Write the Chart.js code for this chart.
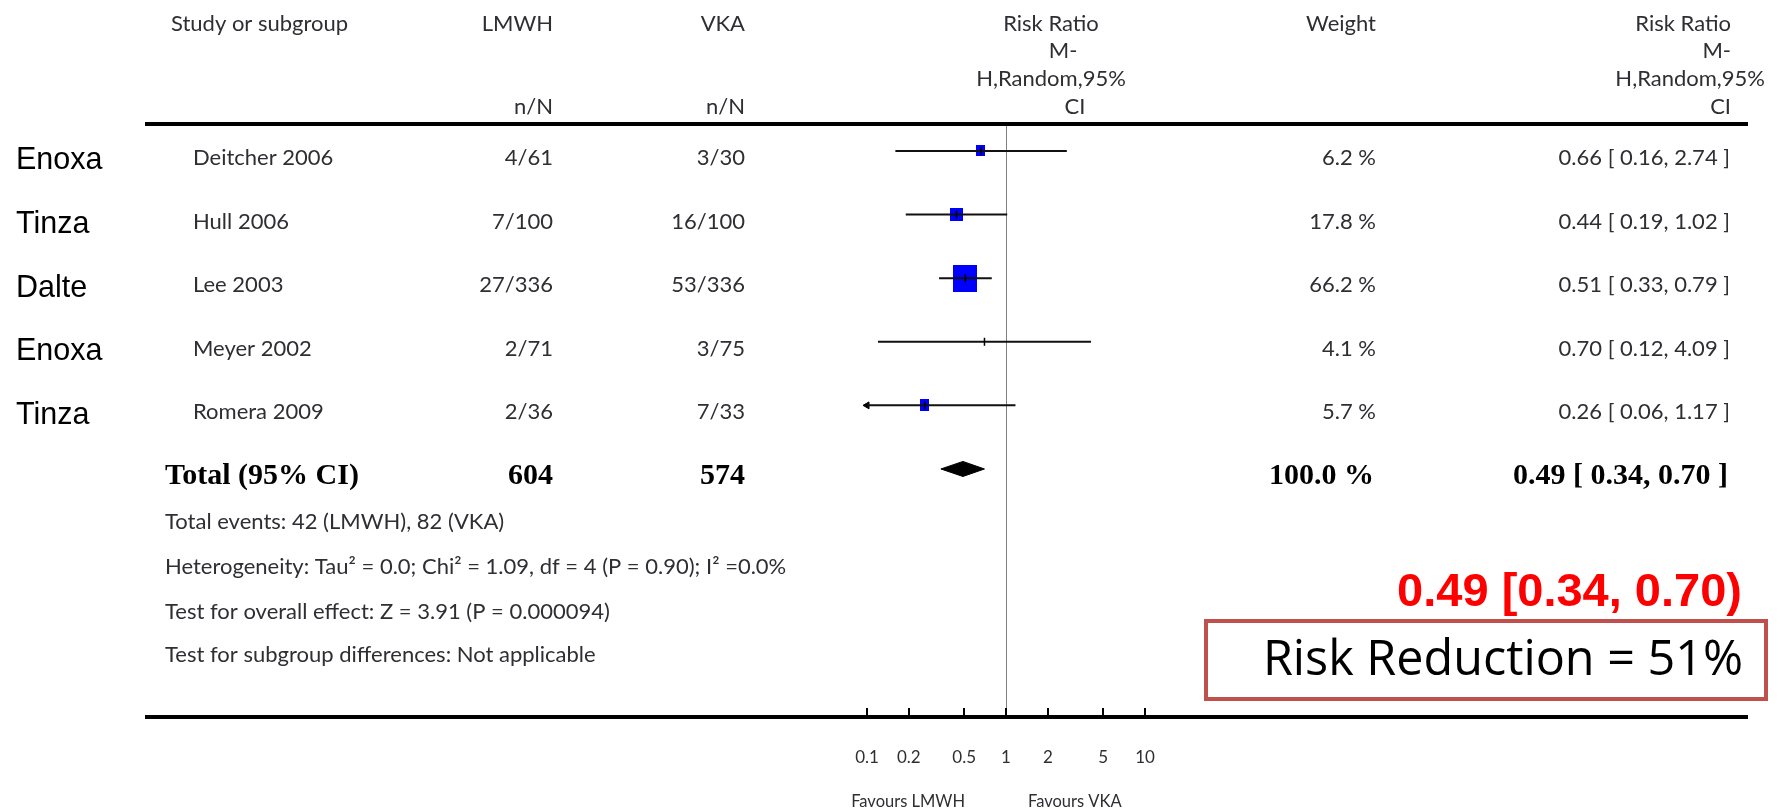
<!DOCTYPE html>
<html><head><meta charset="utf-8">
<script src="https://cdn.jsdelivr.net/npm/chart.js@4.4.1/dist/chart.umd.min.js"></script>
<style>html,body{margin:0;padding:0;background:#fff;overflow:hidden}canvas{display:block}</style>
</head><body>
<canvas id="c" width="1785" height="812"></canvas>
<script>
// ---------------- DATA ----------------
const drugs      = ['Enoxa', 'Tinza', 'Dalte', 'Enoxa', 'Tinza'];
const studies    = ['Deitcher 2006', 'Hull 2006', 'Lee 2003', 'Meyer 2002', 'Romera 2009'];
const lmwhEvents = ['4/61', '7/100', '27/336', '2/71', '2/36'];
const vkaEvents  = ['3/30', '16/100', '53/336', '3/75', '7/33'];
const weights    = [6.2, 17.8, 66.2, 4.1, 5.7];
const riskRatio  = [0.66, 0.44, 0.51, 0.70, 0.26];
const ciLow      = [0.16, 0.19, 0.33, 0.12, 0.06];
const ciHigh     = [2.74, 1.02, 0.79, 4.09, 1.17];
const totalLMWH = 604, totalVKA = 574, totalWeight = 100.0;
const totalRR = 0.49, totalLow = 0.34, totalHigh = 0.70;
const tickValues = [0.1, 0.2, 0.5, 1, 2, 5, 10];
const tickLabels = ['0.1', '0.2', '0.5', '1', '2', '5', '10'];
const footnotes = [
  'Total events: 42 (LMWH), 82 (VKA)',
  'Heterogeneity: Tau\u00B2 = 0.0; Chi\u00B2 = 1.09, df = 4 (P = 0.90); I\u00B2 =0.0%',
  'Test for overall effect: Z = 3.91 (P = 0.000094)',
  'Test for subgroup differences: Not applicable'
];
const highlightText = '0.49 [0.34, 0.70)';
const boxText = 'Risk Reduction = 51%';

// ---------------- STYLE ----------------
const X_MIN = 0.1, X_MAX = 10;
const boxPx = [[9, 11], [13, 13], [24, 27], [0, 0], [9, 12]];   // marker box w,h (px)
const DIAMOND_HALF = 0.118;
const FONT = 'Lato, "Open Sans", sans-serif';
const TXT = '#2e2e33';

const rows = studies.map((_, i) => i + 1);
const totalRow = studies.length + 1;

function boxCanvas(w, h) {
  const c = document.createElement('canvas');
  c.width = Math.max(w, 1); c.height = Math.max(h, 1);
  const g = c.getContext('2d');
  g.fillStyle = '#0000ff'; g.fillRect(0, 0, c.width, c.height);
  return c;
}
const boxImgs = boxPx.map(([w, h]) => boxCanvas(w, h));

const fmt2 = v => v.toFixed(2);

const textPlugin = {
  id: 'forestText',
  afterDraw(chart) {
    const ctx = chart.ctx;
    const ys = chart.scales.y, xs = chart.scales.x;
    const t = (s, x, y, align, font, color) => {
      ctx.font = font; ctx.fillStyle = color || TXT;
      ctx.textAlign = align; ctx.textBaseline = 'middle';
      ctx.fillText(s, x, y);
    };
    ctx.save();
    // rules
    ctx.fillStyle = '#000';
    ctx.fillRect(145, 122, 1603, 4);
    ctx.fillRect(145, 715, 1603, 4);
    // inward ticks on axis
    ctx.strokeStyle = '#000'; ctx.lineWidth = 2;
    xs.ticks.forEach(tk => {
      const px = Math.round(xs.getPixelForValue(tk.value));
      ctx.beginPath(); ctx.moveTo(px, 716); ctx.lineTo(px, 708); ctx.stroke();
    });

    const reg = '22px ' + FONT;
    // headers
    t('Study or subgroup', 171, 24, 'left', reg);
    t('LMWH', 553, 24, 'right', reg);
    t('VKA', 745, 24, 'right', reg);
    t('n/N', 553, 107, 'right', reg);
    t('n/N', 745, 107, 'right', reg);
    t('Risk Ratio', 1051, 24, 'center', reg);
    t('M-', 1063, 51, 'center', reg);
    t('H,Random,95%', 1051, 79, 'center', reg);
    t('CI', 1075, 107, 'center', reg);
    t('Weight', 1376, 24, 'right', reg);
    t('Risk Ratio', 1731, 24, 'right', reg);
    t('M-', 1731, 51, 'right', reg);
    t('H,Random,95%', 1765, 79, 'right', reg);
    t('CI', 1731, 107, 'right', reg);

    // study rows
    studies.forEach((s, i) => {
      const y = ys.getPixelForValue(rows[i]) + 7;
      t(drugs[i], 16, y + 3, 'left', '30.5px "Liberation Sans", Arial, sans-serif', '#000');
      t(s, 193, y, 'left', reg);
      t(lmwhEvents[i], 553, y, 'right', reg);
      t(vkaEvents[i], 745, y, 'right', reg);
      t(weights[i].toFixed(1) + ' %', 1376, y, 'right', reg);
      t(fmt2(riskRatio[i]) + ' [ ' + fmt2(ciLow[i]) + ', ' + fmt2(ciHigh[i]) + ' ]', 1730, y, 'right', reg);
    });
    // total row
    const bold = 'bold 30px "Liberation Serif", "Times New Roman", serif';
    const ty = ys.getPixelForValue(totalRow) + 7;
    t('Total (95% CI)', 165, ty, 'left', bold, '#000');
    t(String(totalLMWH), 553, ty, 'right', bold, '#000');
    t(String(totalVKA), 745, ty, 'right', bold, '#000');
    t(totalWeight.toFixed(1) + ' %', 1374, ty, 'right', bold, '#000');
    t(fmt2(totalRR) + ' [ ' + fmt2(totalLow) + ', ' + fmt2(totalHigh) + ' ]', 1728, ty, 'right', bold, '#000');

    // footnotes
    const fy = [522, 567, 612, 655];
    footnotes.forEach((s, i) => t(s, 165, fy[i], 'left', reg));

    // favours labels
    t('Favours LMWH', 965, 802, 'right', '16.5px ' + FONT);
    t('Favours VKA', 1028, 802, 'left', '16.5px ' + FONT);

    // highlight annotation
    t(highlightText, 1742, 593, 'right', 'bold 47px "Liberation Sans", Arial, sans-serif', '#ff0000');
    ctx.strokeStyle = '#c0504d'; ctx.lineWidth = 4;
    ctx.strokeRect(1206, 621, 560, 78);
    t(boxText, 1503, 661, 'center', '48.5px "Open Sans", "Noto Sans", sans-serif', '#000');
    ctx.restore();
  }
};

const datasets = [
  { // vertical tick at each point estimate
    type: 'scatter', order: 0,
    data: riskRatio.map((v, i) => ({ x: v, y: rows[i] })),
    pointStyle: 'line', rotation: 90, pointRadius: 4,
    borderColor: '#000', borderWidth: 1.5
  },
  // confidence interval lines
  ...riskRatio.map((v, i) => ({
    type: 'line', order: 1,
    data: [{ x: ciLow[i], y: rows[i] }, { x: ciHigh[i], y: rows[i] }],
    borderColor: '#111', borderWidth: 2, pointRadius: 0, fill: false
  })),
  { // arrows for CIs running past the axis
    type: 'scatter', order: 1, clip: false,
    data: ciLow.map((v, i) => v < X_MIN ? { x: X_MIN, y: rows[i] } : null).filter(Boolean),
    pointStyle: 'triangle', rotation: -90, pointRadius: 4,
    backgroundColor: '#000', borderColor: '#000', borderWidth: 1
  },
  { // weighted boxes
    type: 'scatter', order: 2,
    data: riskRatio.map((v, i) => ({ x: v, y: rows[i] })),
    pointStyle: ctx => boxImgs[ctx.dataIndex],
    pointRadius: ctx => (boxPx[ctx.dataIndex][0] > 0 ? 6 : 0)
  },
  { // pooled diamond
    type: 'line', order: 1,
    data: [
      { x: totalLow, y: totalRow }, { x: totalRR, y: totalRow - DIAMOND_HALF },
      { x: totalHigh, y: totalRow }, { x: totalRR, y: totalRow + DIAMOND_HALF },
      { x: totalLow, y: totalRow }
    ],
    fill: 'shape', backgroundColor: '#000', borderColor: '#000', borderWidth: 1,
    pointRadius: 0, tension: 0
  }
];

new Chart(document.getElementById('c'), {
  type: 'scatter',
  data: { datasets },
  options: {
    responsive: false, animation: false, devicePixelRatio: 1,
    layout: { padding: { left: 867, right: 640, top: 123, bottom: 0 } },
    plugins: { legend: { display: false }, tooltip: { enabled: false } },
    scales: {
      x: {
        type: 'logarithmic', min: X_MIN, max: X_MAX,
        afterBuildTicks: s => { s.ticks = tickValues.map(v => ({ value: v })); },
        afterFit: s => { s.height = 95; },
        border: { display: false },
        grid: {
          drawTicks: false,
          color: c => (c.tick && c.tick.value === 1 ? '#808080' : 'rgba(0,0,0,0)'),
          lineWidth: 1
        },
        ticks: {
          autoSkip: false, maxRotation: 0, padding: 30,
          color: TXT, font: { family: FONT, size: 17 },
          callback: (v, i) => tickLabels[i]
        }
      },
      y: {
        type: 'linear', reverse: true, min: 0.56, max: 9.9, display: false
      }
    }
  },
  plugins: [textPlugin]
});
</script>
</body></html>
